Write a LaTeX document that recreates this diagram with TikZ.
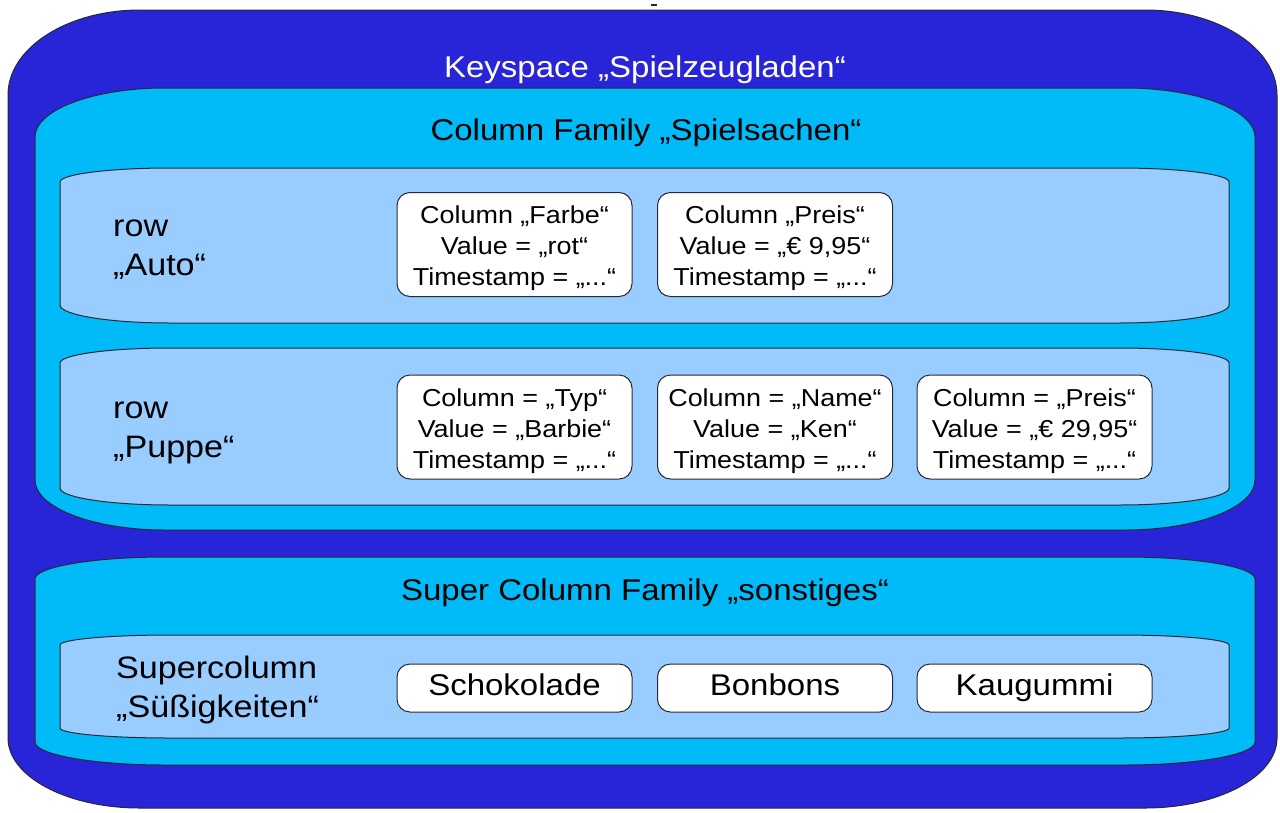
\documentclass[tikz,border=0pt]{standalone}
\usepackage{fontspec}
\setmainfont[FakeStretch=1.1]{Liberation Sans}
\definecolor{keyblue}{RGB}{40,36,216}
\definecolor{cfcyan}{RGB}{0,187,248}
\definecolor{rowblue}{RGB}{153,204,255}
\definecolor{edge}{RGB}{40,40,50}
% x1 y1 x2 y2 rx rytop rybottom fill
\newcommand{\capsule}[8]{%
  \filldraw[fill=#8, draw=edge, line width=1pt]
    (#1,-#2-#6) arc[start angle=180,end angle=90,x radius=#5,y radius=#6]
    -- (#3-#5,-#2) arc[start angle=90,end angle=0,x radius=#5,y radius=#6]
    -- (#3,-#4+#7) arc[start angle=0,end angle=-90,x radius=#5,y radius=#7]
    -- (#1+#5,-#4) arc[start angle=-90,end angle=-180,x radius=#5,y radius=#7]
    -- cycle;}
\newcommand{\celltext}[1]{\raisebox{-4pt}[\height][\depth]{\parbox{235pt}{\centering #1}}}
\tikzset{
  cellbox/.style={draw=edge, fill=white, rounded corners=13pt, line width=1pt,
    minimum width=235pt, minimum height=104pt, inner sep=0pt, align=center,
    font=\fontsize{24.5}{31}\selectfont},
  itembox/.style={draw=edge, fill=white, rounded corners=13pt, line width=1pt,
    minimum width=235pt, minimum height=48pt, inner sep=0pt,
    text height=22pt, text depth=7pt, font=\fontsize{30}{36}\selectfont},
  heading/.style={font=\fontsize{30}{36}\selectfont, inner sep=0pt},
  rowlabel/.style={anchor=west, align=left, inner sep=0pt,
    font=\fontsize{31}{39}\selectfont}
}
\begin{document}
\begin{tikzpicture}[x=1pt,y=1pt]
\useasboundingbox (0,0) rectangle (1280,-812);
\fill[white] (0,0) rectangle (1280,-812);
\draw[line width=1.5pt, edge] (651,-5) -- (657,-5);
% keyspace
\capsule{8}{10}{1277}{808}{132}{85}{70}{keyblue}
\node[heading, text=white] (ks) at (645,-70) {Keyspace „Spielzeugladen“};
% column family
\capsule{35}{88}{1255}{530}{130}{49}{50}{cfcyan}
\node[heading] (cf) at (646,-133) {Column Family „Spielsachen“};
% row Auto
\capsule{60}{168}{1229}{323}{110}{14}{18}{rowblue}
\node[rowlabel] (rauto) at (113,-250) {row\\„Auto“};
\node[cellbox] (a1) at (514.5,-244.5) {\celltext{Column „Farbe“\\Value = „rot“\\Timestamp = „...“}};
\node[cellbox] (a2) at (775,-244.5) {\celltext{Column „Preis“\\Value = „€ 9,95“\\Timestamp = „...“}};
% row Puppe
\capsule{60}{348}{1229}{505}{110}{15}{17}{rowblue}
\node[rowlabel] (rpuppe) at (113,-433) {row\\„Puppe“};
\node[cellbox] (p1) at (514.5,-427) {\celltext{Column = „Typ“\\Value = „Barbie“\\Timestamp = „...“}};
\node[cellbox] (p2) at (775,-427) {\celltext{Column = „Name“\\Value = „Ken“\\Timestamp = „...“}};
\node[cellbox] (p3) at (1034.5,-427) {\celltext{Column = „Preis“\\Value = „€ 29,95“\\Timestamp = „...“}};
% super column family
\capsule{35}{557}{1255}{765}{130}{22}{23}{cfcyan}
\node[heading] (scf) at (645,-593) {Super Column Family „sonstiges“};
\capsule{60}{635}{1229}{738}{110}{10}{10}{rowblue}
\node[rowlabel] (rsuper) at (116,-690) {Supercolumn\\„Süßigkeiten“};
\node[itembox] (s1) at (514.5,-688) {Schokolade};
\node[itembox] (s2) at (775,-688) {Bonbons};
\node[itembox] (s3) at (1034.5,-688) {Kaugummi};
\end{tikzpicture}
\end{document}
